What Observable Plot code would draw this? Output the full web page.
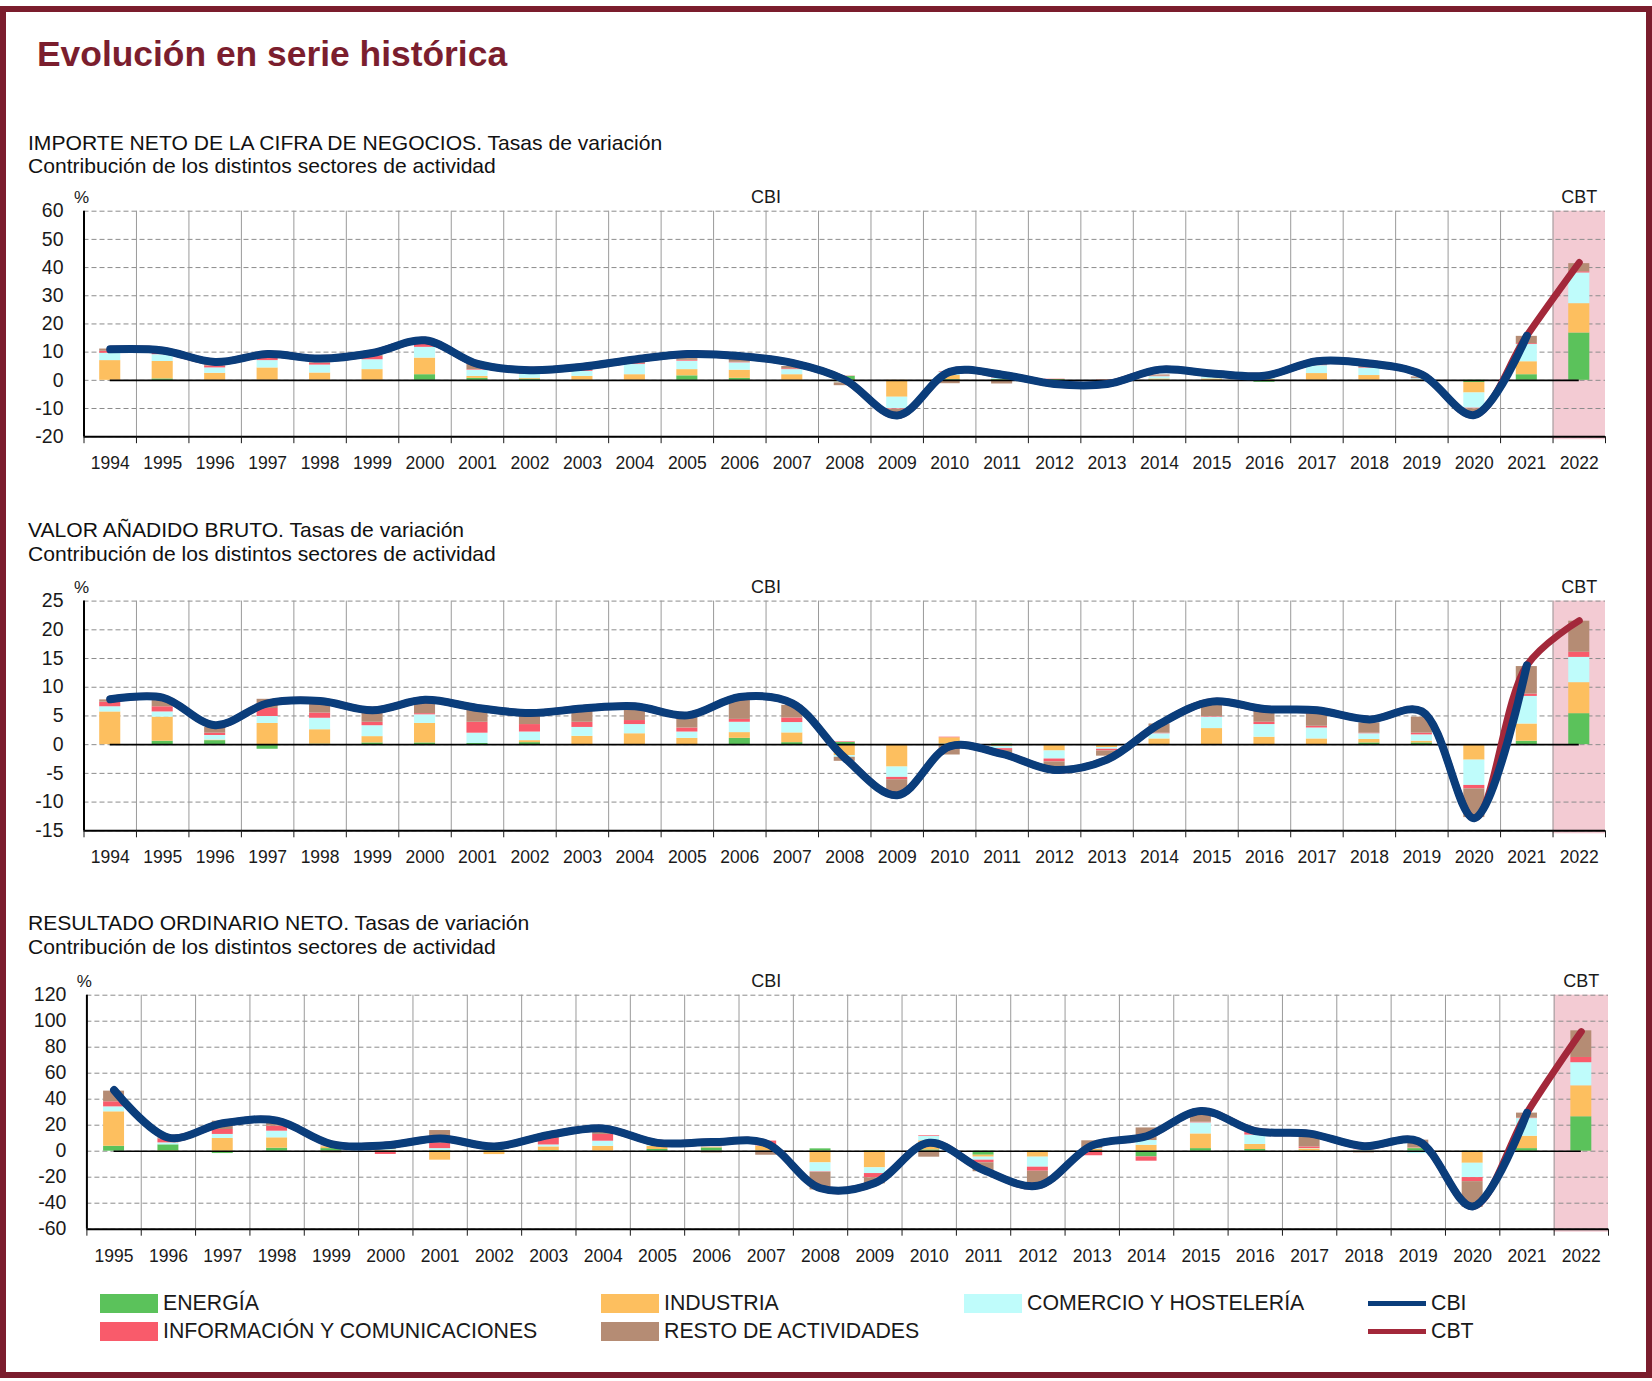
<!DOCTYPE html>
<html><head><meta charset="utf-8">
<script src="https://cdn.jsdelivr.net/npm/d3@7"></script>
<script src="https://cdn.jsdelivr.net/npm/@observablehq/plot@0.6"></script>
<style>
body{margin:0;background:#fff;font-family:"Liberation Sans",Arial,Helvetica,sans-serif;}
#page{position:relative;width:1652px;height:1381px;overflow:hidden;background:#fff;}
#frame{position:absolute;left:0;top:6px;width:1652px;height:1372px;box-sizing:border-box;border:6px solid #7b1d2d;}
.t{position:absolute;white-space:nowrap;color:#111;line-height:1;}
.panel{position:absolute;left:0;}
.sw{position:absolute;}
</style></head>
<body><div id="page"><div id="frame"></div></div>
<script>
// ---------- DATA ----------
const sectors = ["ENERGÍA","INDUSTRIA","COMERCIO Y HOSTELERÍA","INFORMACIÓN Y COMUNICACIONES","RESTO DE ACTIVIDADES"];
const sectorColors = ["#5bc25b","#fdbf5f","#bffcfb","#f95b6b","#b58c74"];
const seriesNames = ["CBI","CBT"];
const seriesColors = ["#0a3d7b","#a3283a"];
const cbtYears = [2022];

// Panel 1: Importe neto de la cifra de negocios
const years1 = [1994,1995,1996,1997,1998,1999,2000,2001,2002,2003,2004,2005,2006,2007,2008,2009,2010,2011,2012,2013,2014,2015,2016,2017,2018,2019,2020,2021,2022];
const p1Energia = [0,0.5,0,0,0,0,2.0,0.7,0.4,0,0,1.6,0.7,0,1.4,0,0.3,0.3,0.3,0,0.1,0,-0.7,0,0,0,-0.8,2.0,16.8];
const p1Industria = [7.0,6.2,2.5,4.4,2.6,3.8,5.9,0.7,0.3,1.4,2.0,2.2,2.9,2.0,-0.6,-6.0,1.4,-0.3,-0.4,-0.2,0.4,0.5,0.4,2.4,1.7,0.2,-3.7,4.6,10.4];
const p1Comercio = [2.6,2.4,1.9,2.6,2.8,3.5,3.8,2.2,1.5,1.8,3.6,3.0,2.6,1.8,-0.3,-4.1,1.2,0.4,-0.3,-0.2,0.8,0.8,0.6,2.8,2.6,0.4,-5.4,6.1,10.9];
const p1Informacion = [0.7,0.7,0.7,0.8,0.7,1.2,1.3,0.2,0.3,0.5,0.3,0.3,0.2,0.3,0.1,-0.2,0.2,0.2,0.1,0.1,0.2,0.2,0.2,0.2,0.2,0.1,-0.2,0.3,0.4];
const p1Resto = [0.8,0.3,0.4,0.7,0.4,0.4,0.8,1.8,0.5,0.7,0.6,0.6,1.0,0.8,-1.0,-1.3,-1.2,-1.0,-0.6,-0.4,0.4,0.3,0.3,0.4,1.0,0.5,-1.5,2.6,2.9];
const p1CBI = [11.0,10.6,6.5,9.3,7.7,9.7,14.2,5.8,3.6,4.8,7.4,9.3,8.6,6.2,0.2,-12.5,3.0,2.0,-1.3,-1.3,3.8,2.4,1.6,6.8,6.0,2.0,-12.3,15.8];
const p1CBT = [41.8];
const p1Ticks = [-20,-10,0,10,20,30,40,50,60];

// Panel 2: Valor añadido bruto
const years2 = years1;
const p2Energia = [0,0.6,0.7,-0.8,0.1,0.3,0.3,0.2,0.35,0,0,0,1.1,0.35,0.4,0,0.1,0.1,0,0,0,0,0,0,0.3,0.3,-0.1,0.6,5.4];
const p2Industria = [5.7,4.2,0.1,3.7,2.5,1.1,3.4,0,0.35,1.45,1.9,1.1,1.0,1.7,-1.9,-3.9,1.1,-0.3,-1.1,-0.5,1.0,2.8,1.3,1.0,0.6,0.3,-2.6,3.0,5.4];
const p2Comercio = [0.9,0.9,0.8,1.2,2.0,1.9,1.5,1.8,1.5,1.55,1.6,1.1,1.8,1.8,-0.3,-1.8,-0.2,-0.4,-1.4,-0.3,0.9,2.0,2.2,1.9,1.0,1.1,-4.4,4.8,4.4];
const p2Informacion = [0.8,0.9,0.4,1.4,0.9,0.6,0.2,1.9,1.3,0.9,0.7,0.7,0.5,0.8,0.1,-0.4,0.1,-0.3,-0.5,-0.3,0.1,0.1,0.4,0.3,0.1,0.3,-0.6,0.4,0.9];
const p2Resto = [0.4,1.4,1.0,1.6,1.9,2.0,2.5,2.3,2.1,2.0,1.9,1.9,3.7,2.2,-0.7,-2.2,-1.6,-0.6,-0.9,-0.9,1.6,2.2,2.1,2.2,1.8,2.8,-5.0,4.8,5.4];
const p2CBI = [7.9,8.2,3.4,7.2,7.6,6.0,7.8,6.4,5.5,6.3,6.7,5.1,8.3,7.2,-2.3,-8.8,-0.3,-1.6,-4.4,-2.6,3.6,7.5,6.2,6.0,4.4,5.8,-12.8,13.8];
const p2CBT = [21.6];
const p2Ticks = [-15,-10,-5,0,5,10,15,20,25];

// Panel 3: Resultado ordinario neto
const years3 = [1995,1996,1997,1998,1999,2000,2001,2002,2003,2004,2005,2006,2007,2008,2009,2010,2011,2012,2013,2014,2015,2016,2017,2018,2019,2020,2021,2022];
const p3Energia = [3.8,4.9,-1.8,2.3,2.0,0.3,0.5,0.5,0.5,0,1.3,2.5,0.2,1.8,0.5,1.0,-3.1,0.3,0.5,-4.4,2.0,1.3,0.3,0.2,2.0,-0.3,2.0,26.5];
const p3Industria = [26.5,-1.0,9.8,8.0,1.5,0.5,-6.9,-2.6,2.8,3.8,2.5,0.5,3.5,-9.0,-12.8,7.0,-1.5,-4.6,1.0,4.6,11.3,3.9,1.5,-0.3,0.3,-9.0,9.5,23.8];
const p3Comercio = [3.8,1.5,3.1,5.1,0.5,0.5,1.5,1.0,1.5,3.9,0.8,0.3,0.3,-6.9,-4.4,3.3,-2.3,-7.7,0.5,3.6,8.5,7.2,0.3,0.3,-1.8,-11.0,13.6,17.8];
const p3Informacion = [3.9,3.0,3.8,3.9,0.3,-2.5,4.4,0.8,5.0,5.2,0.5,0.2,3.8,-0.3,-3.3,0.5,-2.0,-3.1,-3.5,-3.3,0.5,2.6,1.2,0.2,0.2,-3.1,0.4,4.0];
const p3Resto = [8.2,1.0,6.4,3.8,-1.2,0.8,9.5,1.5,3.0,3.8,0.8,-1.3,-3.1,-13.6,-4.6,-4.6,-6.9,-9.7,6.0,9.7,5.4,0.3,7.7,-1.0,6.0,-19.8,3.8,20.5];
const p3CBI = [47,10.5,21.5,23.5,5.5,4.5,9.8,3.6,12.5,17.5,6.4,7.0,6.0,-28.5,-24.5,6.5,-14.5,-26.5,4.5,11.5,31,15.5,13.5,3.8,7.7,-42.5,29.5];
const p3CBT = [92];
const p3Ticks = [-60,-40,-20,0,20,40,60,80,100,120];

const titles = [
  ["IMPORTE NETO DE LA CIFRA DE NEGOCIOS. Tasas de variación","Contribución de los distintos sectores de actividad"],
  ["VALOR AÑADIDO BRUTO. Tasas de variación","Contribución de los distintos sectores de actividad"],
  ["RESULTADO ORDINARIO NETO. Tasas de variación","Contribución de los distintos sectores de actividad"]
];

// ---------- DRAW ----------
const page = document.getElementById("page");
const FONT = "'Liberation Sans', Arial, Helvetica, sans-serif";

function addText(txt, left, baseline, size, extra = {}) {
  const d = document.createElement("div");
  d.className = "t";
  d.textContent = txt;
  d.style.left = left + "px";
  d.style.top = (baseline - 0.8465 * size) + "px";
  d.style.fontSize = size + "px";
  Object.assign(d.style, extra);
  page.appendChild(d);
  return d;
}

addText("Evolución en serie histórica", 37, 67, 35.4, {fontWeight: "bold", color: "#7b1e2e"});

function panel(cfg) {
  const {years, comps, cbi, cbt, ticks, top, height, mt, mb, ml, mr, inset, cbiX} = cfg;
  const rows = [];
  years.forEach((yr, i) => sectors.forEach((s, k) => rows.push({year: yr, sector: s, value: comps[k][i]})));
  const first = years[0], last = years[years.length - 1];
  const grid = years.slice(0, -1).map(y => y + 0.5);
  const bounds = [first - 0.5, ...years.map(y => y + 0.5)];
  const cbiLine = cbi.map((v, i) => ({year: years[i], v}));
  const cbtLine = cbiLine.concat(cbt.map((v, i) => ({year: cbtYears[i], v})));
  const yDom = [ticks[0], ticks[ticks.length - 1]];
  const svg = Plot.plot({
    width: 1652, height, marginTop: mt, marginBottom: mb, marginLeft: ml, marginRight: mr,
    x: {type: "linear", domain: [first - 0.5, last + 0.5], axis: null},
    y: {domain: yDom, axis: null, label: null},
    color: {domain: sectors, range: sectorColors},
    style: {fontFamily: FONT, color: "#1a1a1a", background: "transparent", overflow: "visible"},
    marks: [
      Plot.rect(cbtYears, {x1: d => d - 0.5, x2: d => d + 0.5, y1: yDom[0], y2: yDom[1], fill: "#f3cbd3", insetBottom: -3}),
      Plot.gridY(ticks, {stroke: "#8c8c8c", strokeOpacity: 1, strokeDasharray: "5,3", strokeWidth: 1}),
      Plot.ruleX(grid, {stroke: "#9a9a9a", strokeWidth: 1}),
      Plot.rectY(rows, Plot.stackY({x1: d => d.year - 0.5, x2: d => d.year + 0.5, y: "value", fill: "sector", insetLeft: inset, insetRight: inset})),
      Plot.ruleY([0], {x1: first, x2: last, stroke: "#000", strokeWidth: 1.6}),
      Plot.ruleY([yDom[0]], {stroke: "#000", strokeWidth: 2}),
      Plot.ruleX([first - 0.5], {stroke: "#000", strokeWidth: 2}),
      Plot.axisX(bounds, {tickSize: 7, tickFormat: () => "", label: null}),
      Plot.axisX(years, {tickSize: 0, tickPadding: 20, fontSize: 17.5, tickFormat: d => String(d), label: null}),
      Plot.axisY(ticks, {tickSize: 0, tickPadding: 20.5, fontSize: 19.5, tickFormat: d => String(d), label: null}),
      Plot.line(cbtLine, {x: "year", y: "v", stroke: seriesColors[1], strokeWidth: 7, curve: "catmull-rom"}),
      Plot.line(cbiLine, {x: "year", y: "v", stroke: seriesColors[0], strokeWidth: 8, curve: "catmull-rom"}),
      Plot.text(["%"], {frameAnchor: "top-left", textAnchor: "middle", lineAnchor: "middle", dx: -2.5, dy: -14, fontSize: 17}),
      Plot.text([seriesNames[0]], {x: cbiX, frameAnchor: "top", lineAnchor: "middle", dy: -14, fontSize: 18}),
      Plot.text([seriesNames[1]], {x: cbtYears[0], frameAnchor: "top", lineAnchor: "middle", dy: -14, fontSize: 18})
    ]
  });
  svg.classList.add("panel");
  svg.style.top = top + "px";
  page.appendChild(svg);
}

addText(titles[0][0], 28, 150, 21.1);
addText(titles[0][1], 28, 172.5, 21.1);
panel({years: years1, comps: [p1Energia, p1Industria, p1Comercio, p1Informacion, p1Resto], cbi: p1CBI, cbt: p1CBT,
  ticks: p1Ticks, top: 180, height: 300, mt: 30.7, mb: 43.8, ml: 83.5, mr: 47, inset: 15.7, cbiX: 2006.5});

addText(titles[1][0], 28, 537, 21.1);
addText(titles[1][1], 28, 561, 21.1);
panel({years: years2, comps: [p2Energia, p2Industria, p2Comercio, p2Informacion, p2Resto], cbi: p2CBI, cbt: p2CBT,
  ticks: p2Ticks, top: 570, height: 300, mt: 30.6, mb: 39.7, ml: 83.5, mr: 47, inset: 15.7, cbiX: 2006.5});

addText(titles[2][0], 28, 929.5, 21.1);
addText(titles[2][1], 28, 954, 21.1);
panel({years: years3, comps: [p3Energia, p3Industria, p3Comercio, p3Informacion, p3Resto], cbi: p3CBI, cbt: p3CBT,
  ticks: p3Ticks, top: 965, height: 305, mt: 29.7, mb: 41.3, ml: 86.4, mr: 44, inset: 16.7, cbiX: 2007});

// ---------- LEGEND ----------
const legendCols = [100, 601, 964, 1368];
const legendRows = [1303.5, 1331.5];
const legendItems = [
  {name: sectors[0], color: sectorColors[0], col: 0, row: 0, kind: "box"},
  {name: sectors[1], color: sectorColors[1], col: 1, row: 0, kind: "box"},
  {name: sectors[2], color: sectorColors[2], col: 2, row: 0, kind: "box"},
  {name: sectors[3], color: sectorColors[3], col: 0, row: 1, kind: "box"},
  {name: sectors[4], color: sectorColors[4], col: 1, row: 1, kind: "box"},
  {name: seriesNames[0], color: seriesColors[0], col: 3, row: 0, kind: "line"},
  {name: seriesNames[1], color: seriesColors[1], col: 3, row: 1, kind: "line"}
];
legendItems.forEach(it => {
  const x = legendCols[it.col], cy = legendRows[it.row];
  const s = document.createElement("div");
  s.className = "sw";
  s.style.left = x + "px";
  s.style.width = "58px";
  s.style.background = it.color;
  if (it.kind === "box") { s.style.top = (cy - 9.5) + "px"; s.style.height = "19px"; }
  else { s.style.top = (cy - 2.5) + "px"; s.style.height = "5px"; }
  page.appendChild(s);
  addText(it.name, x + 63, cy + 7.5, 21.3, {color: "#1a1a1a"});
});
</script>
</body></html>
